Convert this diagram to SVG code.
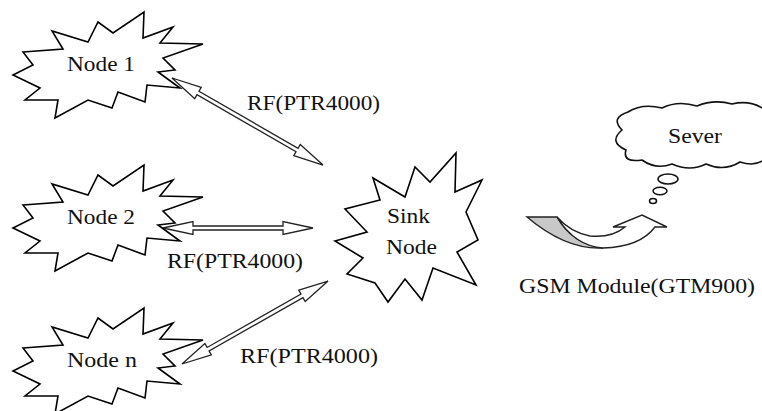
<svg xmlns="http://www.w3.org/2000/svg" width="762" height="411" viewBox="0 0 762 411">
<style>
.burst{fill:#fff;stroke:#000;stroke-width:1.6;stroke-linejoin:miter}
.lbl{font-family:'Liberation Serif','Times New Roman',serif;font-size:21px;fill:#111}
.arr{fill:#fff;stroke:#222;stroke-width:1.3;stroke-linejoin:miter}
.cloud{fill:#fff;stroke:#111;stroke-width:1.6}
.bub{fill:#fff;stroke:#111;stroke-width:1.5}
</style>
<defs>
<path id="star" d="M23,52 L63,49 L52,31 L88,42 L98,22 L113,33 L144,12 L143,38 L173,27 L160,43 L203,44 L163,58 L175,70 L158,72 L180,88 L147,85 L145,102 L118,92 L112,108 L88,100 L55,118 L58,100 L25,100 L40,88 L13,75 L33,65 Z"/>
</defs>
<rect width="762" height="411" fill="#fff"/>
<g id="connectors">
<g transform="translate(172,78) rotate(29.95)">
<polygon class="arr" points="0,0 30,-6.5 30,-2 144.3,-2 144.3,-6.5 174.3,0 144.3,6.5 144.3,2 30,2 30,6.5"/>
</g>
<g transform="translate(163,228)">
<polygon class="arr" points="0,0 30,-6.5 30,-2 120,-2 120,-6.5 150,0 120,6.5 120,2 30,2 30,6.5"/>
</g>
<g transform="translate(182,364) rotate(-29.6)">
<polygon class="arr" points="0,0 30,-6.5 30,-2 138,-2 138,-6.5 168,0 138,6.5 138,2 30,2 30,6.5"/>
</g>
<g id="gsm-arrow">
<path d="M527,217 L557,217 Q572,244 603,248 Q566,250 527,217 Z" fill="#c8c8c8" stroke="#222" stroke-width="1.4"/>
<path d="M557,217 Q575,246 603,248 Q640,247 655,227 L667,227 L642,215 L613,227 L625,227 Q612,238 590,236 Q570,232 557,217 Z" fill="#fff" stroke="#222" stroke-width="1.4"/>
</g>
</g>
<g id="node1">
<use href="#star" class="burst"/>
<text class="lbl" x="67" y="71" textLength="68" lengthAdjust="spacingAndGlyphs">Node 1</text>
</g>
<g id="node2">
<use href="#star" class="burst" transform="translate(0,153)"/>
<text class="lbl" x="67" y="224" textLength="68" lengthAdjust="spacingAndGlyphs">Node 2</text>
</g>
<g id="noden">
<use href="#star" class="burst" transform="translate(0,296)"/>
<text class="lbl" x="67" y="367" textLength="70" lengthAdjust="spacingAndGlyphs">Node n</text>
</g>
<g id="sink">
<path class="burst" d="M373,178 L405,197 L415,167 L430,182 L456,153 L455,192 L482,180 L466,212 L478,240 L457,252 L476,285 L433,268 L422,300 L405,279 L388,302 L375,283 L347,274 L363,258 L335,241 L367,232 L345,209 L380,200 Z"/>
<text class="lbl" x="387" y="223" textLength="43" lengthAdjust="spacingAndGlyphs">Sink</text>
<text class="lbl" x="386" y="254" textLength="51" lengthAdjust="spacingAndGlyphs">Node</text>
</g>
<g id="server">
<path class="cloud" d="M622,130 Q610,118 628,112 Q642,103 662,108 Q678,100 697,106 Q714,99 732,104 Q752,99 768,112 L768,156 Q758,168 740,162 Q724,172 706,164 Q690,172 672,164 Q656,170 642,160 Q622,163 626,150 Q608,142 622,130 Z"/>
<ellipse class="bub" cx="668" cy="179" rx="10" ry="5"/>
<ellipse class="bub" cx="660" cy="191" rx="7" ry="3.8"/>
<ellipse class="bub" cx="653" cy="201" rx="3.5" ry="2.5"/>
<text class="lbl" x="668" y="143" textLength="54" lengthAdjust="spacingAndGlyphs">Sever</text>
</g>
<g id="labels">
<text class="lbl" x="247" y="110" textLength="133" lengthAdjust="spacingAndGlyphs">RF(PTR4000)</text>
<text class="lbl" x="167" y="268" textLength="136" lengthAdjust="spacingAndGlyphs">RF(PTR4000)</text>
<text class="lbl" x="240" y="363" textLength="138" lengthAdjust="spacingAndGlyphs">RF(PTR4000)</text>
<text class="lbl" x="519" y="293" textLength="236" lengthAdjust="spacingAndGlyphs">GSM Module(GTM900)</text>
</g>
</svg>
